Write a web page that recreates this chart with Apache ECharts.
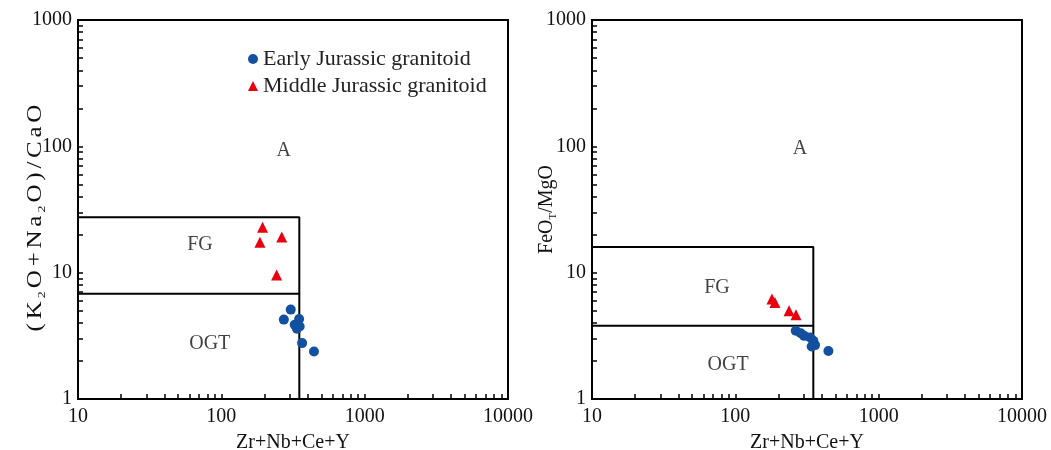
<!DOCTYPE html>
<html>
<head>
<meta charset="utf-8">
<script src="https://cdn.jsdelivr.net/npm/echarts@6/dist/echarts.min.js"></script>
<style>
  html, body { margin: 0; padding: 0; background: #fff; }
  #chart { width: 1051px; height: 450px; }
</style>
</head>
<body>
<div id="chart"></div>
<script>
// values
const earlyLeftX = [305, 273, 349, 325, 337, 352, 366, 443];
const earlyLeftY = [5.1, 4.25, 4.3, 3.87, 3.6, 3.75, 2.77, 2.38];
const middleLeftX = [194, 186, 264, 243];
const middleLeftY = [22.9, 17.4, 19.2, 9.6];

const earlyRightX = [264, 286, 302, 332, 350, 360, 341, 446];
const earlyRightY = [3.47, 3.32, 3.16, 3.07, 2.89, 2.67, 2.6, 2.4];
const middleRightX = [180, 189, 237, 265];
const middleRightY = [6.2, 5.8, 5.0, 4.65];

// field boundaries: [FG upper limit, OGT upper limit, Zr+Nb+Ce+Y limit]
const leftBounds = [27.5, 6.8, 350];
const rightBounds = [16, 3.8, 350];

// region labels [name, x, y]
const leftFields = [['A', 272, 93], ['FG', 71, 16.5], ['OGT', 83, 2.75]];
const rightFields = [['A', 283, 96], ['FG', 74.5, 7.6], ['OGT', 89, 1.86]];

const xLabels = [10, 100, 1000, 10000];
const yLabels = [1, 10, 100, 1000];

const serif = '"Liberation Serif", "DejaVu Serif", serif';
const blue = '#1450a0';
const red = '#e8000f';

function logTicks(from, to) {
    const out = [];
    for (let d = from; d < to; d *= 10) {
        for (let k = 1; k < 10; k++) out.push(d * k);
    }
    out.push(to);
    return out;
}

function zip(xs, ys) {
    return xs.map((x, i) => [x, ys[i]]);
}

// left y name is stretched + letter-spaced in the original, so every glyph gets its own token
function spaced(text) {
    return text.split(/(_\w)/).filter(Boolean).map(part =>
        part[0] === '_' ? `{s|${part[1]}}` : part.split('').map(ch => `{c|${ch}}`).join('')
    ).join('');
}

const subStyle = { fontFamily: serif, fontSize: 11, fill: '#111', color: '#111', lineHeight: 24, verticalAlign: 'bottom' };

function makeX(gridIndex) {
    return {
        type: 'log',
        gridIndex,
        min: 10,
        max: 10000,
        name: 'Zr+Nb+Ce+Y',
        nameLocation: 'middle',
        nameGap: 34,
        nameMoveOverlap: false,
        nameTextStyle: { fontFamily: serif, fontSize: 20, color: '#111' },
        axisLine: { lineStyle: { color: '#000', width: 2 } },
        axisTick: { inside: true, length: 5, customValues: logTicks(10, 10000), lineStyle: { color: '#000', width: 1.5 } },
        axisLabel: { customValues: xLabels, formatter: v => String(v), fontFamily: serif, fontSize: 20, color: '#111', margin: 8 },
        splitLine: { show: false }
    };
}

function makeY(gridIndex, name, nameGap) {
    return {
        type: 'log',
        gridIndex,
        min: 1,
        max: 1000,
        name,
        nameLocation: 'middle',
        nameGap,
        nameMoveOverlap: false,
        nameTextStyle: {
            fontFamily: serif, fontSize: 20, color: '#111', lineHeight: 24,
            rich: { sub: subStyle }
        },
        axisLine: { lineStyle: { color: '#000', width: 2 } },
        axisTick: { inside: true, length: 5, customValues: logTicks(1, 1000), lineStyle: { color: '#000', width: 1.5 } },
        axisLabel: { customValues: yLabels, formatter: v => String(v), fontFamily: serif, fontSize: 20, color: '#111', margin: 6 },
        splitLine: { show: false }
    };
}

function boundarySeries(b, idx) {
    const line = { color: '#000', width: 2 };
    return [
        { type: 'line', xAxisIndex: idx, yAxisIndex: idx, symbol: 'none', silent: true, lineStyle: line,
          data: [[10, b[0]], [b[2], b[0]], [b[2], 1]] },
        { type: 'line', xAxisIndex: idx, yAxisIndex: idx, symbol: 'none', silent: true, lineStyle: line,
          data: [[10, b[1]], [b[2], b[1]]] }
    ];
}

function fieldSeries(fields, idx) {
    return {
        type: 'scatter', xAxisIndex: idx, yAxisIndex: idx, symbolSize: 1, silent: true,
        itemStyle: { color: 'transparent' },
        label: { show: true, position: 'inside', formatter: p => p.name, fontFamily: serif, fontSize: 20, color: '#111' },
        data: fields.map(f => ({ name: f[0], value: [f[1], f[2]] }))
    };
}

function pointSeries(name, data, idx) {
    const isEarly = name.startsWith('Early');
    return {
        type: 'scatter', name, xAxisIndex: idx, yAxisIndex: idx,
        symbol: isEarly ? 'circle' : 'triangle',
        symbolSize: isEarly ? 10 : 11,
        itemStyle: { color: isEarly ? blue : red, opacity: 1 },
        z: 5,
        data
    };
}

const myChart = echarts.init(document.getElementById('chart'));

const option = {
    animation: false,
    backgroundColor: '#fff',
    legend: {
        orient: 'vertical',
        left: 243,
        top: 43,
        itemWidth: 10,
        itemHeight: 10,
        itemGap: 5,
        textStyle: { fontFamily: serif, fontSize: 22, color: '#222' },
        data: [
            { name: 'Early Jurassic granitoid', icon: 'circle' },
            { name: 'Middle Jurassic granitoid', icon: 'triangle' }
        ]
    },
    graphic: [{
        // left y-axis name, drawn as stretched text like the original figure
        type: 'text',
        x: 36,
        y: 218,
        rotation: Math.PI / 2,
        scaleX: 1.25,
        silent: true,
        style: {
            text: spaced('(K_2O+Na_2O)/CaO'),
            fontFamily: serif,
            fontSize: 20,
            fill: '#111',
            align: 'center',
            verticalAlign: 'middle',
            lineHeight: 24,
            rich: {
                c: { fontFamily: serif, fontSize: 20, fill: '#111', lineHeight: 24, padding: [0, 1.5, 0, 1.5] },
                s: Object.assign({}, subStyle, { padding: [0, 1, 0, 1] })
            }
        }
    }],
    grid: [
        { left: 78, right: 543, top: 20, bottom: 51, outerBoundsMode: 'none', show: true, borderColor: '#000', borderWidth: 2 },
        { left: 592, right: 29, top: 20, bottom: 51, outerBoundsMode: 'none', show: true, borderColor: '#000', borderWidth: 2 }
    ],
    xAxis: [makeX(0), makeX(1)],
    yAxis: [
        makeY(0, '', 28),
        makeY(1, 'FeO{sub|T}/MgO', 33)
    ],
    series: [
        ...boundarySeries(leftBounds, 0),
        ...boundarySeries(rightBounds, 1),
        fieldSeries(leftFields, 0),
        fieldSeries(rightFields, 1),
        pointSeries('Early Jurassic granitoid', zip(earlyLeftX, earlyLeftY), 0),
        pointSeries('Middle Jurassic granitoid', zip(middleLeftX, middleLeftY), 0),
        pointSeries('Early Jurassic granitoid', zip(earlyRightX, earlyRightY), 1),
        pointSeries('Middle Jurassic granitoid', zip(middleRightX, middleRightY), 1)
    ]
};

option && myChart.setOption(option);
</script>
</body>
</html>
